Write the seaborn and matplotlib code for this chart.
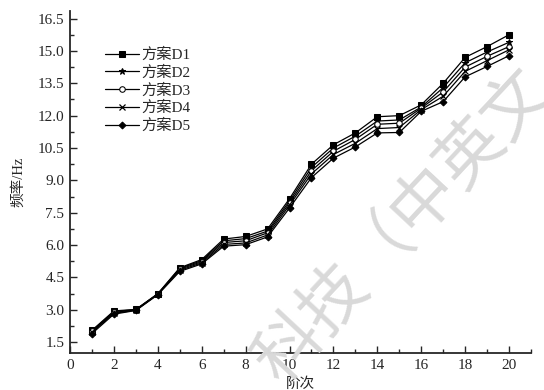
import numpy as np
import pandas as pd
import matplotlib
matplotlib.use('Agg')
import matplotlib.pyplot as plt
import seaborn as sns
from matplotlib.ticker import MultipleLocator

# data
orders = list(range(1, 21))
d1 = [2.05, 2.95, 3.02, 3.75, 4.95, 5.33, 6.28, 6.40, 6.75, 8.15,
      9.75, 10.65, 11.20, 11.95, 12.00, 12.50, 13.50, 14.70, 15.20, 15.75]
d2 = [2.02, 2.92, 3.01, 3.74, 4.92, 5.28, 6.20, 6.30, 6.65, 8.05,
      9.60, 10.50, 11.05, 11.75, 11.80, 12.40, 13.30, 14.45, 14.95, 15.40]
d3 = [2.00, 2.88, 3.00, 3.73, 4.88, 5.23, 6.12, 6.20, 6.57, 7.95,
      9.45, 10.35, 10.90, 11.60, 11.65, 12.35, 13.10, 14.25, 14.75, 15.20]
d4 = [1.96, 2.84, 2.98, 3.72, 4.83, 5.18, 6.03, 6.10, 6.47, 7.85,
      9.30, 10.20, 10.72, 11.40, 11.45, 12.28, 12.90, 14.05, 14.55, 15.05]
d5 = [1.90, 2.80, 2.97, 3.70, 4.78, 5.13, 5.95, 6.02, 6.38, 7.72,
      9.13, 10.03, 10.55, 11.20, 11.22, 12.20, 12.65, 13.80, 14.28, 14.78]
series_names = ['方案D1', '方案D2', '方案D3', '方案D4', '方案D5']

sns.set_style('ticks')
plt.rcParams['font.family'] = ['Liberation Serif', 'Noto Sans CJK SC']
plt.rcParams['axes.unicode_minus'] = False

fig = plt.figure(figsize=(5.44, 3.9), dpi=100)
ax = fig.add_axes([0.1287, 0.0949, 0.8474, 0.8769])

# faint watermark behind the chart
fig.text(0.74, 0.42, '科技（中英文', fontsize=48, color='#d9d9d9',
         rotation=47, ha='center', va='center', zorder=0,
         family=['Noto Sans CJK SC'])

styles = [
    dict(marker='s', markersize=4, markerfacecolor='black'),
    dict(marker='*', markersize=5, markerfacecolor='black'),
    dict(marker='o', markersize=4, markerfacecolor='white'),
    dict(marker='x', markersize=4, markeredgewidth=0.9),
    dict(marker='D', markersize=3.5, markerfacecolor='black'),
]
for name, vals, st in zip(series_names, [d1, d2, d3, d4, d5], styles):
    df = pd.DataFrame({'阶次': orders, '频率': vals})
    sns.lineplot(data=df, x='阶次', y='频率', ax=ax, color='black',
                 linewidth=0.9, markeredgecolor='black', label=name, **st)

ax.set_xlim(0, 21)
ax.set_ylim(1.0, 16.85)
ax.xaxis.set_major_locator(MultipleLocator(2))
ax.xaxis.set_minor_locator(MultipleLocator(1))
ax.yaxis.set_minor_locator(MultipleLocator(0.75))
ax.set_yticks(np.arange(1.5, 16.6, 1.5))
ax.set_yticklabels([f'{v:.1f}' for v in np.arange(1.5, 16.6, 1.5)])
ax.tick_params(which='major', direction='in', length=5, width=1, labelsize=11, pad=4)
ax.tick_params(which='minor', direction='in', length=3, width=1)
for s in ['top', 'right']:
    ax.spines[s].set_visible(False)
for s in ['left', 'bottom']:
    ax.spines[s].set_linewidth(1.3)

ax.set_xlabel('阶次', fontsize=10.5, labelpad=4)
ax.set_ylabel('频率/Hz', fontsize=10.5, labelpad=9)

ax.legend(loc='upper left', bbox_to_anchor=(0.06, 0.915), frameon=False,
          fontsize=11, handlelength=2.2, handletextpad=0.15, labelspacing=0.22,
          borderpad=0)

fig.savefig('out.png', dpi=100)
